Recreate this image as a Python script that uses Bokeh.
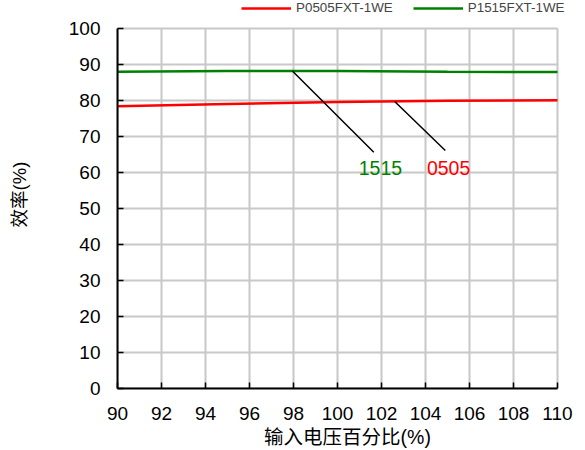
from bokeh.plotting import figure
from bokeh.models import Legend, LegendItem, Range1d, FixedTicker, Label
from bokeh.embed import file_html
from bokeh.resources import INLINE

x_vals = [90, 95, 100, 105, 110]
eff_0505 = [78.4, 79.0, 79.6, 79.9, 80.1]
eff_1515 = [88.0, 88.2, 88.2, 88.0, 87.9]
x_ticks = [90, 92, 94, 96, 98, 100, 102, 104, 106, 108, 110]
y_ticks = [0, 10, 20, 30, 40, 50, 60, 70, 80, 90, 100]
series_names = ["P0505FXT-1WE", "P1515FXT-1WE"]
series_colors = ["#ff0000", "#008000"]
ann_1515 = {"x0": 97.95, "y0": 88.2, "x1": 101.65, "y1": 65.6, "tx": 101.95, "ty": 61.2, "text": "1515"}
ann_0505 = {"x0": 102.6, "y0": 79.7, "x1": 104.9, "y1": 66.1, "tx": 105.05, "ty": 61.2, "text": "0505"}

FONT = "Liberation Sans, Noto Sans CJK SC"

# frame extends beyond the data area (top and right) so the legend is not clipped
PLOT_H = 360      # pixel height of the 0..100 data area
PLOT_W = 440      # pixel width of the 90..110 data area
TOP_PAD = 28
RIGHT_PAD = 20
x_min, x_max = x_ticks[0], x_ticks[-1]
y_min, y_max = y_ticks[0], y_ticks[-1]
y_top = y_max + (y_max - y_min) * TOP_PAD / PLOT_H
x_right = x_max + (x_max - x_min) * RIGHT_PAD / PLOT_W

p = figure(width=577, height=442, output_backend="svg", toolbar_location=None,
           x_range=Range1d(x_min, x_right), y_range=Range1d(y_min, y_top),
           min_border_left=117, min_border_right=0, min_border_top=0, min_border_bottom=54)
p.frame_width = PLOT_W + RIGHT_PAD
p.frame_height = PLOT_H + TOP_PAD
p.outline_line_color = None

for ax in (p.xaxis[0], p.yaxis[0]):
    ax.axis_line_color = "black"
    ax.axis_line_width = 2
    ax.major_tick_line_color = "black"
    ax.major_tick_line_width = 1.5
    ax.major_tick_in = 6
    ax.major_tick_out = 0
    ax.minor_tick_line_color = None
    ax.major_label_text_font = FONT
    ax.major_label_text_font_size = "19px"
    ax.major_label_text_color = "black"
    ax.axis_label_text_font = FONT
    ax.axis_label_text_font_style = "normal"
    ax.axis_label_text_color = "black"

p.xaxis.ticker = FixedTicker(ticks=x_ticks)
p.yaxis.ticker = FixedTicker(ticks=y_ticks)
p.xaxis.bounds = (x_min, x_max)
p.yaxis.bounds = (y_min, y_max)
p.xaxis.axis_label = "输入电压百分比(%)"
p.yaxis.axis_label = "效率(%)"
p.xaxis.axis_label_text_font_size = "19.5px"
p.yaxis.axis_label_text_font_size = "18.5px"
p.xaxis.major_label_standoff = 18
p.xaxis.axis_label_standoff = 3
p.yaxis.major_label_standoff = 17
p.yaxis.axis_label_standoff = 36

GRID = "#c8c8c8"
p.xgrid.visible = False
p.ygrid.visible = False
# grid lines limited to the data area
p.segment(x0=x_ticks, y0=[y_min] * len(x_ticks), x1=x_ticks, y1=[y_max] * len(x_ticks),
          line_color=GRID, line_width=2)
p.segment(x0=[x_min] * len(y_ticks), y0=y_ticks, x1=[x_max] * len(y_ticks), y1=y_ticks,
          line_color=GRID, line_width=2)

r1 = p.line(x_vals, eff_0505, line_color=series_colors[0], line_width=2.5)
r2 = p.line(x_vals, eff_1515, line_color=series_colors[1], line_width=2.5)

for a, col in ((ann_1515, series_colors[1]), (ann_0505, series_colors[0])):
    p.line([a["x0"], a["x1"]], [a["y0"], a["y1"]], line_color="black", line_width=1.5)
    p.add_layout(Label(x=a["tx"], y=a["ty"], text=a["text"], text_color=col,
                       text_font=FONT, text_font_size="19.5px",
                       text_align="center", text_baseline="middle"))

legend = Legend(items=[LegendItem(label=n, renderers=[r]) for n, r in zip(series_names, (r1, r2))],
                orientation="horizontal", location=(124, PLOT_H + TOP_PAD - 15),
                background_fill_alpha=0, border_line_color=None,
                padding=0, margin=0, spacing=20,
                glyph_width=50, glyph_height=12, label_height=12,
                label_standoff=5, label_text_font=FONT, label_text_font_size="13.4px")
p.add_layout(legend, "center")

open("out.html", "w").write(file_html(p, INLINE))
